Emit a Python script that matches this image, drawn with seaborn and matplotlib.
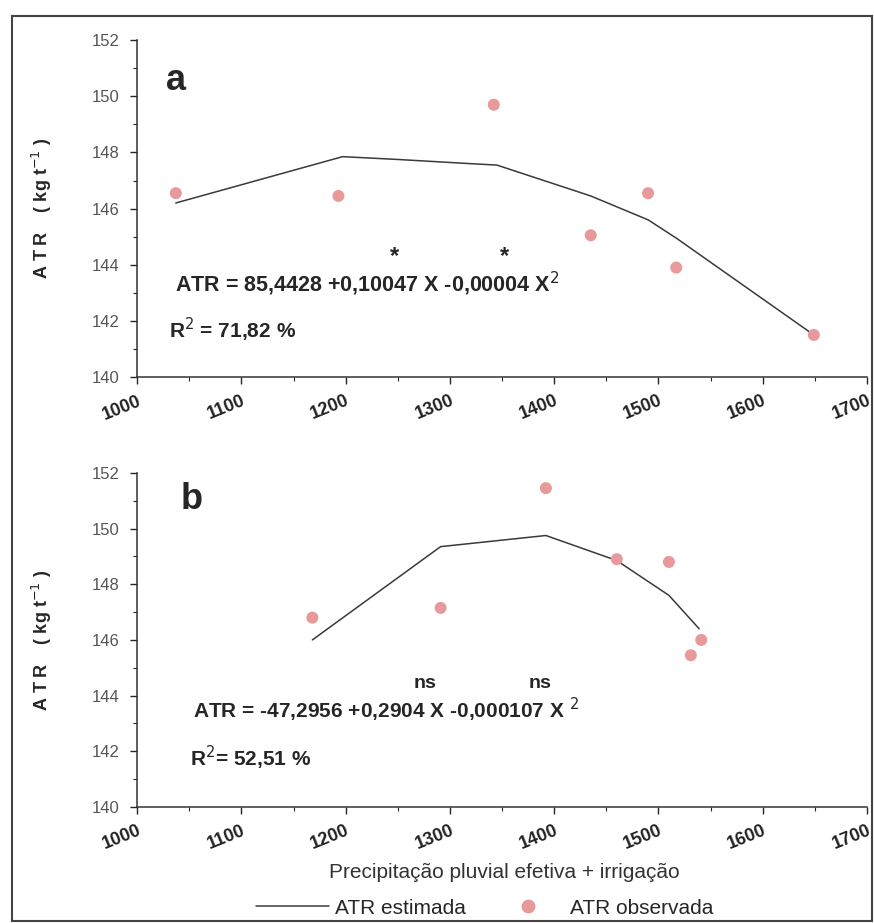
import numpy as np
import pandas as pd
import matplotlib
matplotlib.use("Agg")
import matplotlib.pyplot as plt
import seaborn as sns
from matplotlib.patches import Rectangle
from matplotlib.ticker import MultipleLocator
from matplotlib.lines import Line2D

# ----- data -----
# panel a
a_obs_x = [1037, 1193, 1342, 1435, 1490, 1517, 1649]
a_obs_y = [146.55, 146.45, 149.7, 145.05, 146.55, 143.9, 141.5]
a_fit_x = [1037, 1197, 1250, 1320, 1345, 1435, 1490, 1517, 1649]
a_fit_y = [146.2, 147.85, 147.75, 147.6, 147.55, 146.45, 145.6, 144.95, 141.5]

# panel b
b_obs_x = [1168, 1291, 1392, 1460, 1510, 1531, 1541]
b_obs_y = [146.8, 147.15, 151.45, 148.9, 148.8, 145.45, 146.0]
b_fit_x = [1168, 1291, 1392, 1460, 1510, 1539]
b_fit_y = [146.0, 149.35, 149.75, 148.85, 147.6, 146.4]

x_ticks = [1000, 1100, 1200, 1300, 1400, 1500, 1600, 1700]
y_ticks = [140, 142, 144, 146, 148, 150, 152]

line_color = "#3a3a3a"
dot_color = "#e89a9a"

sns.set_style("ticks")
plt.rcParams["font.family"] = ["Liberation Sans", "DejaVu Sans"]

fig = plt.figure(figsize=(8.74, 9.23), dpi=100)
ax_a = fig.add_axes([0.157, 0.5915, 0.835, 0.365])
ax_b = fig.add_axes([0.157, 0.1257, 0.835, 0.362])

# outer frame around the whole figure
fig.patches.append(Rectangle((12 / 874, 2 / 923), 860 / 874, 905 / 923,
                             transform=fig.transFigure, fill=False,
                             edgecolor="#444444", lw=1.5))


def draw_panel(ax, fx, fy, ox, oy):
    fit = pd.DataFrame({"x": fx, "y": fy})
    obs = pd.DataFrame({"x": ox, "y": oy})
    sns.lineplot(data=fit, x="x", y="y", ax=ax, color=line_color, lw=1.1,
                 estimator=None, sort=False)
    sns.scatterplot(data=obs, x="x", y="y", ax=ax, color=dot_color, s=75,
                    edgecolor="none", zorder=3)
    ax.set_xlim(1000, 1700)
    ax.set_ylim(140, 152)
    ax.set_xticks(x_ticks)
    ax.set_yticks(y_ticks)
    ax.xaxis.set_minor_locator(MultipleLocator(50))
    ax.yaxis.set_minor_locator(MultipleLocator(1))
    ax.tick_params(axis="both", which="major", direction="out", length=5, width=1)
    ax.tick_params(axis="both", which="minor", direction="out", length=3, width=0.8)
    ax.tick_params(axis="y", pad=8)
    ax.tick_params(axis="x", pad=6)
    ax.set_xticklabels([str(t) for t in x_ticks], rotation=22, fontsize=13,
                       fontweight="bold", color="#222222", ha="right",
                       rotation_mode="anchor")
    ax.set_yticklabels([str(t) for t in y_ticks], fontsize=12, color="#555555")
    ax.set_xlabel("")
    ax.set_ylabel(r"A T R    ( kg t$^{-1}$ )", fontsize=13, fontweight="bold",
                  labelpad=27)
    sns.despine(ax=ax)
    for sp in ["left", "bottom"]:
        ax.spines[sp].set_linewidth(1.1)
        ax.spines[sp].set_color("#333333")


draw_panel(ax_a, a_fit_x, a_fit_y, a_obs_x, a_obs_y)
draw_panel(ax_b, b_fit_x, b_fit_y, b_obs_x, b_obs_y)

# panel a annotations
ax_a.text(0.04, 0.88, "a", transform=ax_a.transAxes, fontsize=26,
          fontweight="bold", va="center")
ax_a.text(0.052, 0.275, "ATR = 85,4428 +0,10047 X -0,00004 X$^{2}$",
          transform=ax_a.transAxes, fontsize=15.5, fontweight="bold", va="center")
ax_a.text(1247, 144.3, "*", fontsize=17, fontweight="bold", ha="center", va="center")
ax_a.text(1352, 144.3, "*", fontsize=17, fontweight="bold", ha="center", va="center")
ax_a.text(0.043, 0.14, "R$^{2}$ = 71,82 %", transform=ax_a.transAxes,
          fontsize=15, fontweight="bold", va="center")

# panel b annotations
ax_b.text(0.06, 0.92, "b", transform=ax_b.transAxes, fontsize=26,
          fontweight="bold", va="center")
ax_b.text(0.077, 0.29, "ATR = -47,2956 +0,2904 X -0,000107 X $^{2}$",
          transform=ax_b.transAxes, fontsize=15, fontweight="bold", va="center")
ax_b.text(1276, 144.45, "ns", fontsize=14, fontweight="bold", ha="center",
          va="center")
ax_b.text(1386, 144.45, "ns", fontsize=14, fontweight="bold", ha="center",
          va="center")
ax_b.text(0.073, 0.147, "R$^{2}$= 52,51 %", transform=ax_b.transAxes,
          fontsize=15, fontweight="bold", va="center")

# shared x label and legend
fig.text(0.577, 1 - 873 / 923, "Precipitação pluvial efetiva + irrigação",
         ha="center", va="center", fontsize=15, color="#333333")
handles = [Line2D([0], [0], color=line_color, lw=1.1),
           Line2D([0], [0], marker="o", ls="none", color=dot_color, markersize=9)]
fig.legend(handles, ["ATR estimada", "ATR observada"], ncol=2,
           loc="center", bbox_to_anchor=(0.555, 1 - 908 / 923), frameon=False,
           fontsize=15, handlelength=3.5, columnspacing=1.2, handletextpad=0.3)

fig.savefig("out.png", dpi=100)
